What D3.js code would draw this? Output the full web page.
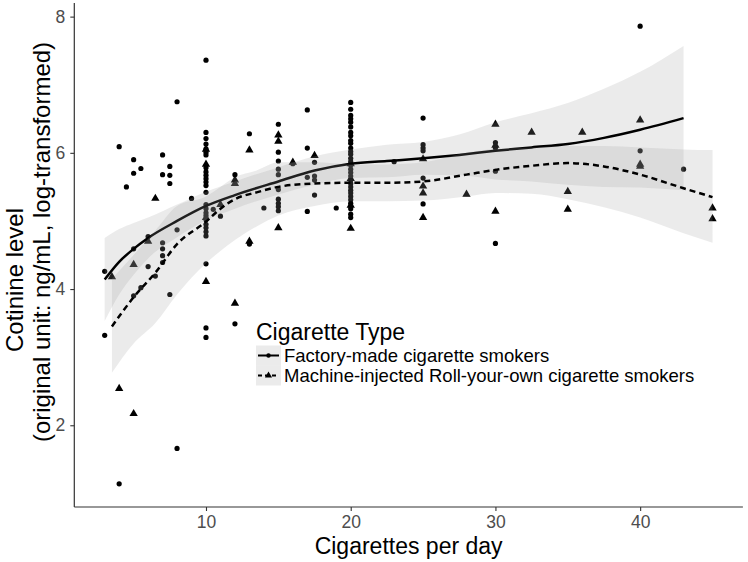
<!DOCTYPE html>
<html>
<head>
<meta charset="utf-8">
<script src="https://cdn.jsdelivr.net/npm/d3@7"></script>
<style>
  body { margin: 0; background: #fff; }
  svg { font-family: "Liberation Sans", Arial, sans-serif; }
</style>
</head>
<body>
<div id="container"></div>
<script>
//DATA: factory-made smokers (circles)
const factoryPoints = [
  [3, 4.26], [3, 3.32], [4, 6.09], [4, 1.14], [4.5, 5.50], [5, 5.90], [5, 5.70], [5, 4.59], [5, 3.90],
  [5.5, 5.77], [5.5, 4.02], [6, 4.77], [6, 4.33], [6.5, 4.19], [7, 5.97], [7, 5.68], [7, 4.68], [7, 4.59],
  [7, 4.49], [7, 4.39], [7.5, 5.80], [7.5, 5.67], [7.5, 5.55], [7.5, 3.92], [8, 6.75], [8, 4.87], [8, 1.66],
  [9, 5.33],
  [10, 7.36], [10, 6.30], [10, 6.21], [10, 6.13], [10, 6.06], [10, 6.01], [10, 5.97], [10, 5.78], [10, 5.72],
  [10, 5.67], [10, 5.62], [10, 5.57], [10, 5.52], [10, 5.42], [10, 5.24], [10, 5.18], [10, 5.12], [10, 5.08],
  [10, 5.02], [10, 4.95], [10, 4.90], [10, 4.84], [10, 4.78], [10, 4.37], [10, 3.43], [10, 3.29],
  [10.5, 5.17], [11, 5.07], [12, 5.68], [12, 3.49], [13, 6.28], [13, 4.66], [14, 5.19],
  [15, 6.42], [15, 6.01], [15, 5.88], [15, 5.76], [15, 5.68], [15, 5.46], [15, 5.32], [15, 5.26], [15, 5.21], [15, 5.15],
  [16, 5.84], [17, 6.63], [17, 6.07], [17, 5.64], [17, 5.14],
  [17.5, 5.86], [17.5, 5.66], [17.5, 5.60], [17.5, 5.38], [19, 5.19],
  [20, 6.74], [20, 6.64], [20, 6.55], [20, 6.50], [20, 6.45], [20, 6.38], [20, 6.30], [20, 6.25], [20, 6.18],
  [20, 6.14], [20, 6.07], [20, 6.02], [20, 5.98], [20, 5.92], [20, 5.87], [20, 5.82], [20, 5.76], [20, 5.71],
  [20, 5.66], [20, 5.60], [20, 5.55], [20, 5.50], [20, 5.45], [20, 5.41], [20, 5.36], [20, 5.31], [20, 5.26],
  [20, 5.18], [20, 5.10], [20, 5.05],
  [23, 5.87], [25, 6.51], [25, 6.12], [25, 6.07], [25, 6.03], [25, 5.63], [25, 5.25],
  [30, 6.15], [30, 6.07], [30, 5.73], [30, 4.67], [40, 7.86], [40, 6.03], [43, 5.76]
]

//DATA: machine-injected roll-your-own smokers (triangles)
const ryoPoints = [
  [3.5, 4.18], [4, 2.54], [5, 4.36], [5, 2.17], [6, 4.70], [6.5, 5.33],
  [10, 6.05], [10, 5.83], [10, 5.05], [10, 4.11], [11, 5.24], [12, 5.60], [12, 5.55], [12, 3.79],
  [13, 6.04], [13, 4.70], [15, 6.26], [15, 6.17], [15, 4.90], [16, 5.86], [17.5, 5.96],
  [20, 5.84], [20, 5.62], [20, 5.23], [20, 4.89],
  [25, 5.91], [25, 5.51], [25, 5.41], [25, 5.05], [28, 5.39],
  [30, 6.42], [30, 6.11], [30, 5.14], [32.5, 6.30], [35, 5.43], [35, 5.17], [36, 6.30],
  [40, 6.48], [40, 5.83], [40, 5.80], [45, 5.19], [45, 5.03]
]

//DATA: smoothed fits and confidence bands
const factoryFitX = [3, 4, 5, 6, 8, 10, 12, 15, 17.5, 20, 22.5, 25, 27.5, 30, 32.5, 35, 37.5, 40, 43]
const factoryFit = [4.14, 4.40, 4.59, 4.75, 5.00, 5.22, 5.38, 5.58, 5.74, 5.84, 5.88, 5.92, 5.97, 6.03, 6.08, 6.13, 6.22, 6.34, 6.51]
const factoryLo = [3.53, 3.92, 4.21, 4.45, 4.76, 5.01, 5.18, 5.39, 5.53, 5.63, 5.64, 5.68, 5.67, 5.61, 5.58, 5.53, 5.50, 5.49, 5.45]
const factoryHi = [4.75, 4.88, 4.97, 5.05, 5.24, 5.43, 5.58, 5.79, 5.95, 6.05, 6.12, 6.16, 6.27, 6.45, 6.58, 6.73, 6.94, 7.19, 7.57]

const ryoFitX = [3.5, 5, 6.5, 8, 10, 11, 12, 13.5, 15, 17.5, 20, 22.5, 25, 28, 30, 32.5, 35, 37.5, 40, 43, 45]
const ryoFit = [3.45, 3.88, 4.24, 4.66, 4.99, 5.18, 5.32, 5.42, 5.50, 5.55, 5.56, 5.56, 5.58, 5.68, 5.75, 5.81, 5.85, 5.80, 5.68, 5.48, 5.35]
const ryoLo = [2.77, 3.20, 3.50, 3.92, 4.38, 4.56, 4.72, 4.92, 5.08, 5.22, 5.29, 5.29, 5.30, 5.36, 5.41, 5.40, 5.32, 5.20, 5.05, 4.82, 4.68]
const ryoHi = [4.15, 4.50, 4.86, 5.22, 5.36, 5.50, 5.64, 5.74, 5.86, 5.86, 5.83, 5.83, 5.86, 6.00, 6.06, 6.08, 6.10, 6.10, 6.08, 6.05, 6.04]

const xTicks = [10, 20, 30, 40]
const yTicks = [2, 4, 6, 8]
const legendTitle = 'Cigarette Type'
const legendLabels = ['Factory-made cigarette smokers', 'Machine-injected Roll-your-own cigarette smokers']

//BOX
const w = 748
const h = 562

//SCALES
const xscale = d3.scaleLinear().domain([0.9, 47.1]).range([74.3, 742.9])
const yscale = d3.scaleLinear().domain([0.8, 8.2]).range([507, 3])

const svg = d3.select('#container')
  .append('svg')
  .attr('width', w)
  .attr('height', h)

const tri = d3.symbol().type(d3.symbolTriangle).size(30)

//POINTS
svg.append('g')
  .selectAll('circle')
  .data(factoryPoints)
  .enter()
  .append('circle')
  .attr('cx', d => xscale(d[0]))
  .attr('cy', d => yscale(d[1]))
  .attr('r', 2.6)
  .attr('fill', '#000')

svg.append('g')
  .selectAll('path')
  .data(ryoPoints)
  .enter()
  .append('path')
  .attr('d', tri)
  .attr('transform', d => 'translate(' + xscale(d[0]) + ',' + yscale(d[1]) + ')')
  .attr('fill', '#000')

//SMOOTHERS
const area = d3.area()
  .x(d => xscale(d[0]))
  .y0(d => yscale(d[1]))
  .y1(d => yscale(d[2]))
  .curve(d3.curveMonotoneX)

const line = d3.line()
  .x(d => xscale(d[0]))
  .y(d => yscale(d[1]))
  .curve(d3.curveMonotoneX)

const smooths = [
  { xs: factoryFitX, fit: factoryFit, lo: factoryLo, hi: factoryHi, dash: null },
  { xs: ryoFitX, fit: ryoFit, lo: ryoLo, hi: ryoHi, dash: '6,4' }
]

smooths.forEach(s => {
  svg.append('path')
    .datum(s.xs.map((v, i) => [v, s.lo[i], s.hi[i]]))
    .attr('d', area)
    .attr('fill', '#999999')
    .attr('fill-opacity', 0.2)
  svg.append('path')
    .datum(s.xs.map((v, i) => [v, s.fit[i]]))
    .attr('d', line)
    .attr('fill', 'none')
    .attr('stroke', '#000')
    .attr('stroke-width', 2.5)
    .attr('stroke-dasharray', s.dash)
})

//AXES
const xaxis = d3.axisBottom(xscale).tickValues(xTicks).tickSize(4).tickSizeOuter(0).tickPadding(5)
const yaxis = d3.axisLeft(yscale).tickValues(yTicks).tickSize(4).tickSizeOuter(0).tickPadding(5)

const gx = svg.append('g')
  .attr('transform', 'translate(0,507)')
  .call(xaxis)
gx.select('.domain').attr('d', 'M74.3,0H742.9')

const gy = svg.append('g')
  .attr('transform', 'translate(74.3,0)')
  .call(yaxis)
gy.select('.domain').attr('d', 'M0,3V507')

svg.selectAll('.domain').attr('stroke', '#333').attr('stroke-width', 1.2)
svg.selectAll('.tick line').attr('stroke', '#333').attr('stroke-width', 1.1)
svg.selectAll('.tick text')
  .attr('fill', '#4d4d4d')
  .style('font-size', '17.5px')
  .style('font-family', '"Liberation Sans", Arial, sans-serif')

//AXIS TITLES
svg.append('text')
  .attr('x', 408.6)
  .attr('y', 554)
  .attr('text-anchor', 'middle')
  .style('font-size', '23px')
  .text('Cigarettes per day')

svg.append('text')
  .attr('transform', 'translate(23,280) rotate(-90)')
  .attr('text-anchor', 'middle')
  .style('font-size', '24px')
  .text('Cotinine level')

svg.append('text')
  .attr('transform', 'translate(50,242) rotate(-90)')
  .attr('text-anchor', 'middle')
  .style('font-size', '24px')
  .text('(original unit: ng/mL, log-transformed)')

//LEGEND
const lg = svg.append('g').attr('transform', 'translate(256,0)')
lg.append('text')
  .attr('x', 0)
  .attr('y', 340)
  .style('font-size', '23px')
  .text(legendTitle)

legendLabels.forEach((lab, i) => {
  const ky = 345.5 + i * 20
  lg.append('rect')
    .attr('x', 0)
    .attr('y', ky)
    .attr('width', 25)
    .attr('height', 20)
    .attr('fill', '#999999')
    .attr('fill-opacity', 0.2)
  lg.append('line')
    .attr('x1', 2)
    .attr('x2', 23)
    .attr('y1', ky + 10)
    .attr('y2', ky + 10)
    .attr('stroke', '#000')
    .attr('stroke-width', 2)
    .attr('stroke-dasharray', i === 0 ? null : '4,3')
  if (i === 0) {
    lg.append('circle').attr('cx', 12.5).attr('cy', ky + 10).attr('r', 2.2)
  } else {
    lg.append('path').attr('d', d3.symbol().type(d3.symbolTriangle).size(22)).attr('transform', 'translate(12.5,' + (ky + 10) + ')')
  }
  lg.append('text')
    .attr('x', 28)
    .attr('y', ky + 16)
    .style('font-size', '18.5px')
    .text(lab)
})
</script>
</body>
</html>
